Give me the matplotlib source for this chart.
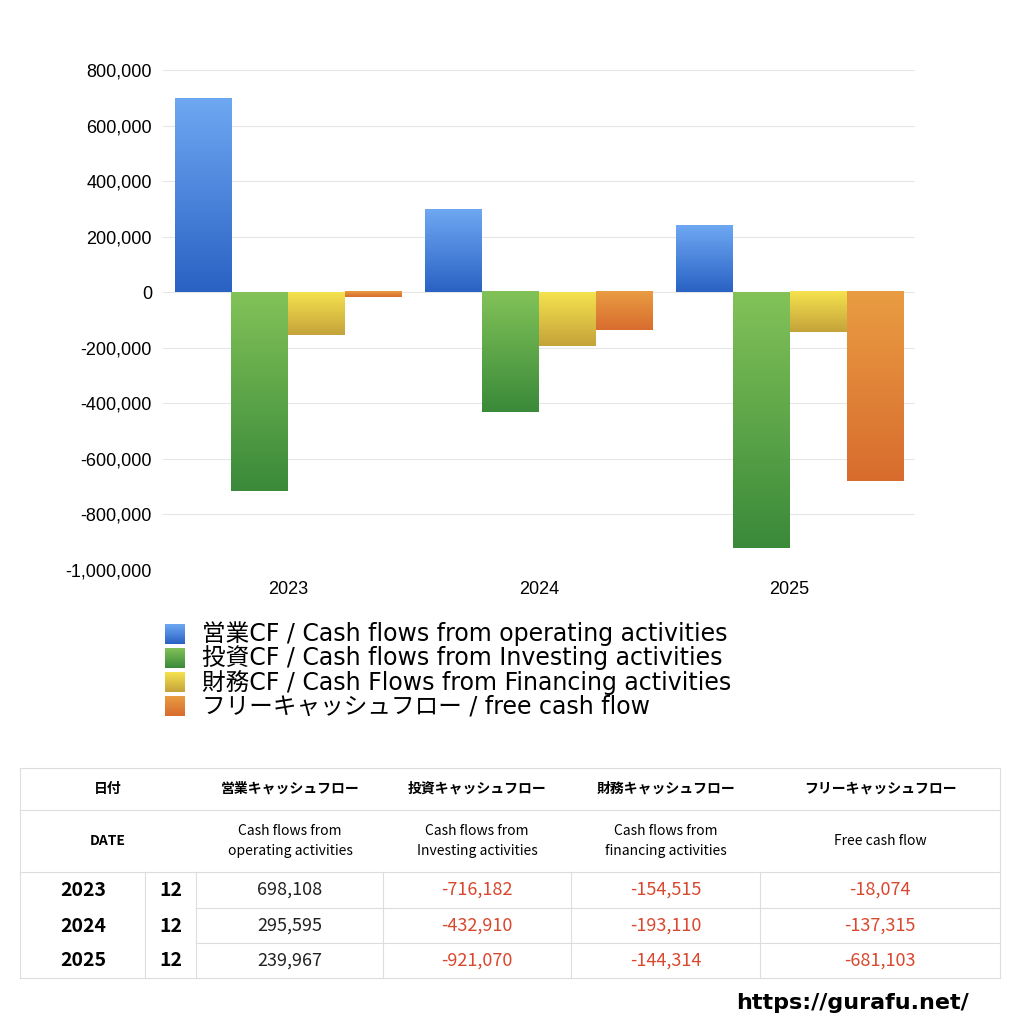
import matplotlib
matplotlib.use("Agg")
import matplotlib.pyplot as plt
import numpy as np
from matplotlib.colors import LinearSegmentedColormap

plt.rcParams['font.family'] = ['Noto Sans CJK JP', 'DejaVu Sans']

years = ["2023", "2024", "2025"]
months = ["12", "12", "12"]
operating = [698108, 295595, 239967]
investing = [-716182, -432910, -921070]
financing = [-154515, -193110, -144314]
free_cf = [-18074, -137315, -681103]
series_names = ["営業CF / Cash flows from operating activities",
                "投資CF / Cash flows from Investing activities",
                "財務CF / Cash Flows from Financing activities",
                "フリーキャッシュフロー / free cash flow"]
col_jp = ["営業キャッシュフロー", "投資キャッシュフロー", "財務キャッシュフロー", "フリーキャッシュフロー"]
col_en = ["Cash flows from\noperating activities", "Cash flows from\nInvesting activities",
          "Cash flows from\nfinancing activities", "Free cash flow"]
yticks = [800000, 600000, 400000, 200000, 0, -200000, -400000, -600000, -800000, -1000000]

grads = [("#6ea8f2", "#2a62c4"), ("#82c258", "#3a8a3a"),
         ("#f5e24e", "#c4a33a"), ("#e99c42", "#d86c2e")]

W = 1024
fig = plt.figure(figsize=(10.24, 10.24), dpi=100)
ax = fig.add_axes([163/W, 1-570/W, 752/W, 500/W])
ax.set_yticks(yticks)
ax.set_yticklabels([f"{v:,}" for v in yticks], fontsize=13, family=['Liberation Sans'])
ax.set_xticks(range(3))
ax.set_xticklabels(years, fontsize=13, family=['Liberation Sans'])
ax.tick_params(length=0, pad=8)
for s in ax.spines.values():
    s.set_visible(False)
ax.grid(axis='y', color='#e6e6e6', lw=0.8)
ax.set_axisbelow(True)

bw = 0.227
data = [operating, investing, financing, free_cf]
for si, (vals, (c1, c2)) in enumerate(zip(data, grads)):
    cmap = LinearSegmentedColormap.from_list("g", [c2, c1])
    for i, v in enumerate(vals):
        x0 = i + (si - 1.5) * bw - bw/2
        top, bot = max(v, 0), min(v, 0)
        grad = np.linspace(1, 0, 100).reshape(-1, 1)
        ax.imshow(grad, cmap=cmap, extent=[x0, x0 + bw, bot, top], aspect='auto',
                  interpolation='bicubic', zorder=2)
ax.set_xlim(-0.5, 2.5)
ax.set_ylim(-1000000, 800000)

# legend
for k, (name, (c1, c2)) in enumerate(zip(series_names, grads)):
    yc = 634 + k*24
    lax = fig.add_axes([165/W, 1-(yc+10)/W, 20/W, 20/W])
    cmap = LinearSegmentedColormap.from_list("g", [c2, c1])
    lax.imshow(np.linspace(1, 0, 50).reshape(-1, 1), cmap=cmap, aspect='auto', extent=[0, 1, 0, 1])
    lax.axis('off')
    fig.text(202/W, 1-yc/W, name, fontsize=17, va='center', ha='left',
             family=['DejaVu Sans', 'Noto Sans CJK JP'])

# table
lc = '#dddddd'
def hline(y, x0, x1):
    fig.add_artist(plt.Line2D([x0/W, x1/W], [1-y/W, 1-y/W], color=lc, lw=0.8))
def vline(x, y0, y1):
    fig.add_artist(plt.Line2D([x/W, x/W], [1-y0/W, 1-y1/W], color=lc, lw=0.8))
hline(768, 20, 1000); hline(810, 20, 1000); hline(872, 20, 1000); hline(978, 20, 1000)
hline(908, 196, 1000); hline(943, 196, 1000)
vline(20, 768, 978); vline(1000, 768, 978)
for x in [145, 196, 383, 571, 760]:
    vline(x, 872, 978)
fig.text(108/W, 1-789/W, "日付", fontsize=10, weight='bold', ha='center', va='center')
fig.text(108/W, 1-841/W, "DATE", fontsize=10, weight='bold', ha='center', va='center')
centers = [290, 477, 666, 880]
for c, j, e in zip(centers, col_jp, col_en):
    fig.text(c/W, 1-789/W, j, fontsize=10, weight='bold', ha='center', va='center')
    fig.text(c/W, 1-841/W, e, fontsize=10, ha='center', va='center', linespacing=1.5)
rows_y = [890, 926, 961]
for r, yy in enumerate(rows_y):
    fig.text(83/W, 1-yy/W, years[r], fontsize=14, weight='bold', ha='center', va='center')
    fig.text(171/W, 1-yy/W, months[r], fontsize=14, weight='bold', ha='center', va='center')
    for c, vals in zip(centers, data):
        v = vals[r]
        fig.text(c/W, 1-yy/W, f"{v:,}", fontsize=13, ha='center', va='center',
                 color='#d9482e' if v < 0 else '#222222')
fig.text(853/W, 1-1003/W, "https://gurafu.net/", fontsize=16, weight='bold', ha='center', va='center',
         family=['DejaVu Sans'])
fig.savefig("out.png", dpi=100)
